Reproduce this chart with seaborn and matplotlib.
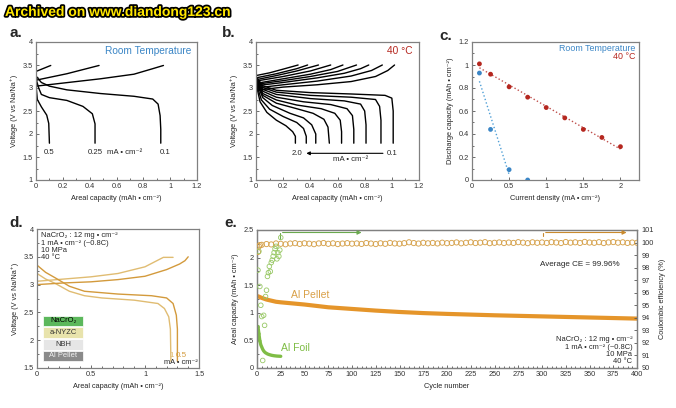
import matplotlib
matplotlib.use("Agg")
import numpy as np
import pandas as pd
import matplotlib.pyplot as plt
import matplotlib.patheffects as pe
from matplotlib.ticker import MultipleLocator, FuncFormatter
from matplotlib.patches import Rectangle
import seaborn as sns

sns.set_theme(style="ticks")
plt.rcParams["font.family"] = ["Liberation Sans", "DejaVu Sans"]

# ---------------- data: panel a (room temperature) ----------------
a_chg_cap = [[0, 0.48, 0.73, 0.87, 0.95],
             [0, 0.23, 0.47],
             [0, 0.11]]
a_chg_v = [[3.04, 3.20, 3.30, 3.42, 3.49],
           [3.17, 3.31, 3.49],
           [3.36, 3.49]]
a_dis_cap = [[0, 0.04, 0.10, 0.23, 0.48, 0.73, 0.87, 0.91, 0.925, 0.93, 0.93],
             [0, 0.02, 0.04, 0.10, 0.23, 0.35, 0.42, 0.44, 0.44],
             [0, 0.01, 0.04, 0.08, 0.095, 0.10]]
a_dis_v = [[3.26, 3.12, 3.04, 2.96, 2.88, 2.82, 2.76, 2.65, 2.40, 2.10, 1.80],
           [3.20, 3.00, 2.86, 2.79, 2.73, 2.60, 2.44, 2.22, 1.80],
           [3.06, 2.75, 2.59, 2.41, 2.23, 1.80]]
a_rate_labels = ["0.5", "0.25", "0.1"]
a_rate_label_x = [0.10, 0.44, 0.96]

# ---------------- data: panel b (40 C), rates 0.1 ... 2.0 ----------------
b_chg_cap = [[0, 0.20, 0.45, 0.70, 0.88, 0.97, 1.02],
             [0, 0.20, 0.45, 0.70, 0.85, 0.93],
             [0, 0.20, 0.45, 0.65, 0.77, 0.83],
             [0, 0.20, 0.40, 0.60, 0.74],
             [0, 0.20, 0.40, 0.55, 0.64],
             [0, 0.20, 0.40, 0.55],
             [0, 0.15, 0.30, 0.46],
             [0, 0.15, 0.30, 0.38],
             [0, 0.10, 0.20, 0.31]]
b_chg_v = [[2.95, 3.02, 3.07, 3.14, 3.25, 3.38, 3.50],
           [3.00, 3.07, 3.15, 3.26, 3.38, 3.50],
           [3.05, 3.12, 3.22, 3.32, 3.42, 3.50],
           [3.08, 3.16, 3.25, 3.36, 3.50],
           [3.10, 3.20, 3.30, 3.40, 3.50],
           [3.15, 3.25, 3.37, 3.50],
           [3.18, 3.27, 3.37, 3.50],
           [3.22, 3.31, 3.42, 3.50],
           [3.27, 3.33, 3.41, 3.50]]
b_dis_cap = [[0, 0.05, 0.15, 0.40, 0.70, 0.95, 1.00, 1.01, 1.01],
             [0, 0.05, 0.15, 0.40, 0.70, 0.88, 0.91, 0.92, 0.92],
             [0, 0.05, 0.15, 0.40, 0.65, 0.77, 0.80, 0.81, 0.81],
             [0, 0.05, 0.15, 0.35, 0.55, 0.67, 0.71, 0.72, 0.72],
             [0, 0.05, 0.15, 0.30, 0.48, 0.58, 0.62, 0.63, 0.63],
             [0, 0.05, 0.15, 0.30, 0.42, 0.50, 0.53, 0.54],
             [0, 0.05, 0.12, 0.25, 0.35, 0.41, 0.44, 0.44],
             [0, 0.04, 0.10, 0.20, 0.30, 0.35, 0.37, 0.37],
             [0, 0.03, 0.08, 0.15, 0.22, 0.27, 0.29, 0.29]]
b_dis_v = [[3.25, 3.05, 2.95, 2.90, 2.87, 2.84, 2.78, 2.50, 1.80],
           [3.24, 3.01, 2.91, 2.84, 2.80, 2.75, 2.60, 2.30, 1.80],
           [3.22, 2.97, 2.86, 2.77, 2.72, 2.65, 2.50, 2.20, 1.80],
           [3.20, 2.93, 2.80, 2.70, 2.64, 2.55, 2.40, 2.10, 1.80],
           [3.18, 2.88, 2.74, 2.63, 2.55, 2.45, 2.30, 2.05, 1.80],
           [3.16, 2.84, 2.67, 2.55, 2.45, 2.32, 2.15, 1.80],
           [3.14, 2.79, 2.62, 2.45, 2.35, 2.20, 2.00, 1.80],
           [3.12, 2.74, 2.54, 2.38, 2.25, 2.12, 1.95, 1.80],
           [3.10, 2.70, 2.47, 2.30, 2.18, 2.05, 1.95, 1.80]]

# ---------------- data: panel c ----------------
c_rate_40 = [0.1, 0.25, 0.5, 0.75, 1.0, 1.25, 1.5, 1.75, 2.0]
c_cap_40 = [1.01, 0.92, 0.81, 0.72, 0.63, 0.54, 0.44, 0.37, 0.29]
c_rate_rt = [0.1, 0.25, 0.5, 0.75]
c_cap_rt = [0.93, 0.44, 0.09, 0.0]

# ---------------- data: panel d ----------------
d_chg_1_cap = [0, 0.25, 0.5, 0.75, 1.0, 1.1, 1.17, 1.26]
d_chg_1_v = [3.06, 3.10, 3.14, 3.20, 3.32, 3.42, 3.49, 3.49]
d_chg_05_cap = [0, 0.25, 0.5, 0.75, 1.0, 1.2, 1.32, 1.37, 1.40]
d_chg_05_v = [3.00, 3.03, 3.05, 3.09, 3.15, 3.27, 3.37, 3.43, 3.50]
d_dis_1_cap = [0, 0.08, 0.17, 0.30, 0.44, 0.60, 0.90, 1.12, 1.18, 1.22, 1.235, 1.24]
d_dis_1_v = [3.20, 3.10, 3.02, 2.88, 2.80, 2.76, 2.72, 2.66, 2.57, 2.42, 2.20, 1.62]
d_dis_05_cap = [0, 0.08, 0.17, 0.30, 0.44, 0.75, 1.06, 1.20, 1.26, 1.29, 1.30, 1.30]
d_dis_05_v = [3.35, 3.22, 3.12, 2.97, 2.88, 2.83, 2.80, 2.76, 2.66, 2.45, 2.20, 1.62]
d_stack_labels = ["NaCrO\u2082", "a-NYZC", "NBH", "Al Pellet"]

# ---------------- data: panel e ----------------
pellet_cap_cycle = [1, 5, 10, 15, 20, 25, 50, 75, 100, 125, 150, 175, 200, 250, 300, 350, 400]
pellet_cap = [1.30, 1.27, 1.24, 1.22, 1.20, 1.19, 1.15, 1.10, 1.07, 1.04, 1.015, 0.995,
              0.98, 0.955, 0.935, 0.915, 0.895]
foil_cycle = list(range(1, 26))
foil_cap = [0.75, 0.62, 0.49, 0.42, 0.38, 0.34, 0.31, 0.29, 0.275, 0.265, 0.255, 0.248,
            0.242, 0.237, 0.232, 0.228, 0.225, 0.222, 0.220, 0.218, 0.216, 0.215, 0.214,
            0.213, 0.212]
foil_ce = [97.8, 99.3, 96.5, 95.0, 94.1, 90.6, 94.2, 93.4, 95.7, 96.2, 97.3, 97.6, 98.1,
           97.7, 98.4, 98.6, 98.9, 99.2, 99.5, 99.7, 98.7, 99.2, 98.9, 99.4, 100.4]
pellet_ce_cycle = [1, 2, 3] + list(range(5, 401, 5))
pellet_ce = [99.25, 99.70, 99.80,
             99.82, 99.88, 99.85, 99.93, 99.90, 99.86, 99.92, 99.95, 99.89, 99.94,
             99.91, 99.87, 99.93, 99.96, 99.90, 99.94, 99.88, 99.92, 99.95, 99.91,
             99.93, 99.89, 99.96, 99.92, 99.88, 99.94, 99.90, 99.97, 99.93, 99.91,
             99.95, 100.02, 99.96, 99.92, 99.98, 99.94, 99.97, 99.93, 99.99, 99.95,
             99.97, 100.01, 99.94, 99.98, 100.02, 99.96, 99.99, 100.03, 99.95, 99.98,
             100.01, 99.96, 100.00, 99.97, 100.03, 99.99, 99.95, 100.02, 99.98, 100.01,
             99.97, 100.03, 100.00, 99.96, 100.04, 99.99, 100.02, 99.97, 100.05, 100.00,
             99.98, 100.03, 99.96, 100.01, 100.04, 99.99, 100.02, 99.97, 100.00, 99.98]
x_ticks_e = list(range(0, 401, 25))

# ---------------- colours ----------------
BLUE = "#3b86c6"
RED = "#b5271f"
GOLD_1 = "#e0bc72"
GOLD_05 = "#d39a3c"
ORANGE = "#e5952a"
ORANGE_CE = "#d6a24c"
GREEN = "#7fbd45"
GREEN_CE = "#98c865"
SPINE = "#808080"

W, H = 676, 408
fig = plt.figure(figsize=(W / 100, H / 100), dpi=100)


def box(l, t, r, b):
    return [l / W, 1 - b / H, (r - l) / W, (b - t) / H]


fmt = FuncFormatter(lambda v, p: f"{v:g}")
TS = 5.3


def style(ax, xlim, ylim, xmaj, xmin, ymaj, ymin):
    ax.set_xlim(*xlim)
    ax.set_ylim(*ylim)
    ax.xaxis.set_major_locator(MultipleLocator(xmaj))
    ax.xaxis.set_minor_locator(MultipleLocator(xmin))
    ax.yaxis.set_major_locator(MultipleLocator(ymaj))
    ax.yaxis.set_minor_locator(MultipleLocator(ymin))
    ax.xaxis.set_major_formatter(fmt)
    ax.yaxis.set_major_formatter(fmt)
    ax.tick_params(which="both", direction="in", color="#555555", labelcolor="#333333",
                   labelsize=TS, width=0.6, pad=2.5)
    ax.tick_params(which="major", length=2.5)
    ax.tick_params(which="minor", length=1.5)
    for s in ax.spines.values():
        s.set_color(SPINE)
        s.set_linewidth(0.9)


def line(ax, x, y, color, lw=1.0):
    sns.lineplot(x=x, y=y, sort=False, estimator=None, color=color, lw=lw, ax=ax)


CAP_LABEL = "Areal capacity (mAh \u2022 cm\u207b\u00b2)"
V_LABEL = "Voltage (V vs Na/Na\u207a)"
UNIT = "mA \u2022 cm\u207b\u00b2"

# ---------------- panel a ----------------
axa = fig.add_axes(box(36, 42, 197, 180))
for x, y in zip(a_chg_cap, a_chg_v):
    line(axa, x, y, "black")
for x, y in zip(a_dis_cap, a_dis_v):
    line(axa, x, y, "black")
style(axa, (0, 1.2), (1, 4), 0.2, 0.1, 0.5, 0.25)
for lab, xx in zip(a_rate_labels, a_rate_label_x):
    axa.text(xx, 1.6, lab, fontsize=5.6, ha="center", va="center")
axa.text(0.66, 1.6, UNIT, fontsize=5.6, ha="center", va="center")
axa.text(1.16, 3.8, "Room Temperature", color=BLUE, fontsize=7.3, ha="right", va="center")
axa.set_xlabel(CAP_LABEL, fontsize=TS, labelpad=3)
axa.set_ylabel(V_LABEL, fontsize=TS, labelpad=3)

# ---------------- panel b ----------------
axb = fig.add_axes(box(256, 42, 419, 180))
for x, y in zip(b_chg_cap, b_chg_v):
    line(axb, x, y, "black")
for x, y in zip(b_dis_cap, b_dis_v):
    line(axb, x, y, "black")
style(axb, (0, 1.2), (1, 4), 0.2, 0.1, 0.5, 0.25)
axb.text(1.15, 3.8, "40 \u00b0C", color=RED, fontsize=7.3, ha="right", va="center")
axb.text(0.30, 1.58, "2.0", fontsize=5.6, ha="center", va="center")
axb.text(1.00, 1.58, "0.1", fontsize=5.6, ha="center", va="center")
axb.annotate("", xy=(0.35, 1.58), xytext=(0.955, 1.58),
             arrowprops=dict(arrowstyle="-|>", color="black", lw=0.8, mutation_scale=5))
axb.text(0.70, 1.45, UNIT, fontsize=5.6, ha="center", va="center")
axb.set_xlabel(CAP_LABEL, fontsize=TS, labelpad=3)
axb.set_ylabel(V_LABEL, fontsize=TS, labelpad=3)

# ---------------- panel c ----------------
axc = fig.add_axes(box(472, 42, 639, 180))
sns.regplot(x=c_rate_40, y=c_cap_40, scatter=False, ci=None, truncate=True, ax=axc,
            line_kws=dict(ls=":", lw=1.0, color="#c0504d"))
sns.regplot(x=c_rate_rt[:3], y=c_cap_rt[:3], scatter=False, ci=None, truncate=True, ax=axc,
            line_kws=dict(ls=":", lw=1.0, color="#4f9fd6"))
sns.scatterplot(x=c_rate_40, y=c_cap_40, color=RED, s=12, edgecolor="none", ax=axc, zorder=3)
sns.scatterplot(x=c_rate_rt, y=c_cap_rt, color=BLUE, s=12, edgecolor="none", ax=axc, zorder=3)
style(axc, (0, 2.25), (0, 1.2), 0.5, 0.25, 0.2, 0.1)
axc.text(2.2, 1.14, "Room Temperature", color=BLUE, fontsize=6.4, ha="right", va="center")
axc.text(2.2, 1.07, "40 \u00b0C", color=RED, fontsize=6.4, ha="right", va="center")
axc.set_xlabel("Current density (mA \u2022 cm\u207b\u00b2)", fontsize=TS, labelpad=3)
axc.set_ylabel("Discharge capacity (mAh \u2022 cm\u207b\u00b2)", fontsize=TS, labelpad=3)

# ---------------- panel d ----------------
axd = fig.add_axes(box(37, 229, 199, 368))
line(axd, d_chg_1_cap, d_chg_1_v, GOLD_1)
line(axd, d_dis_1_cap, d_dis_1_v, GOLD_1)
line(axd, d_chg_05_cap, d_chg_05_v, GOLD_05)
line(axd, d_dis_05_cap, d_dis_05_v, GOLD_05)
style(axd, (0, 1.5), (1.5, 4), 0.5, 0.1, 0.5, 0.25)
axd.text(0.025, 0.975,
         "NaCrO\u2082 : 12 mg \u2022 cm\u207b\u00b2\n1 mA \u2022 cm\u207b\u00b2 (~0.8C)\n10 MPa\n40 \u00b0C",
         transform=axd.transAxes, fontsize=5.4, ha="left", va="top", linespacing=1.05)
axd.text(1.245, 1.72, "1", color=GOLD_1, fontsize=5.8, ha="center", va="center")
axd.text(1.335, 1.72, "0.5", color=GOLD_05, fontsize=5.8, ha="center", va="center")
axd.text(1.49, 1.59, UNIT, fontsize=5.4, ha="right", va="center")
stack_colors = ["#5cb85c", "#e8e3ac", "#e6e6e6", "#8a8a8a"]
stack_text = ["black", "#333333", "#333333", "#f2f2f2"]
bh = 0.084
for i, (lab, fc, tc) in enumerate(zip(d_stack_labels, stack_colors, stack_text)):
    y0 = 0.045 + (3 - i) * bh
    axd.add_patch(Rectangle((0.04, y0 + 0.004), 0.245, bh - 0.008, transform=axd.transAxes,
                            facecolor=fc, edgecolor="white", lw=0.5, zorder=4))
    axd.text(0.1625, y0 + bh / 2, lab, transform=axd.transAxes, fontsize=5.4, color=tc,
             ha="center", va="center", zorder=5)
axd.set_xlabel(CAP_LABEL, fontsize=TS, labelpad=3)
axd.set_ylabel(V_LABEL, fontsize=TS, labelpad=3)

# ---------------- panel e ----------------
axe = fig.add_axes(box(257, 230, 637, 368))
axe2 = axe.twinx()
line(axe, pellet_cap_cycle, pellet_cap, ORANGE, lw=3.0)
line(axe, foil_cycle, foil_cap, GREEN, lw=2.4)
sns.scatterplot(x=foil_cycle[:3], y=foil_cap[:3], color=GREEN, s=6, edgecolor="none", ax=axe)
sns.scatterplot(x=pellet_ce_cycle, y=pellet_ce, ax=axe2, s=14, facecolor="none",
                edgecolor=ORANGE_CE, linewidth=0.65, zorder=3)
sns.scatterplot(x=foil_cycle, y=foil_ce, ax=axe2, s=11, facecolor="none",
                edgecolor=GREEN_CE, linewidth=0.6, zorder=4)
style(axe, (0, 400), (0, 2.5), 25, 5, 0.5, 0.25)
axe.set_xticks(x_ticks_e)
axe2.set_ylim(90, 101)
axe2.yaxis.set_major_locator(MultipleLocator(1))
axe2.yaxis.set_major_formatter(fmt)
axe2.tick_params(which="both", direction="in", color="#555555", labelcolor="#333333",
                 labelsize=TS, width=0.6, length=2.5, pad=3)
for s in axe2.spines.values():
    s.set_color(SPINE)
    s.set_linewidth(0.9)
# guide arrows
axe2.plot([24, 24], [100.25, 100.8], color="#6aa84f", lw=0.8)
axe2.annotate("", xy=(113, 100.8), xytext=(24, 100.8),
              arrowprops=dict(arrowstyle="-|>", color="#6aa84f", lw=0.8, mutation_scale=6))
axe2.plot([301, 301], [100.5, 100.8], color="#c98a2e", lw=0.8)
axe2.annotate("", xy=(392, 100.8), xytext=(301, 100.8),
              arrowprops=dict(arrowstyle="-|>", color="#c98a2e", lw=0.8, mutation_scale=6))
axe2.text(0.955, 0.75, "Average CE = 99.96%", transform=axe2.transAxes, fontsize=5.8,
          ha="right", va="center")
axe.text(36, 1.32, "Al Pellet", color="#d9a047", fontsize=7.5, ha="left", va="center")
axe.text(25, 0.36, "Al Foil", color=GREEN, fontsize=7.5, ha="left", va="center")
axe.text(0.988, 0.02,
         "NaCrO\u2082 : 12 mg \u2022 cm\u207b\u00b2\n1 mA \u2022 cm\u207b\u00b2 (~0.8C)\n10 MPa\n40 \u00b0C",
         transform=axe.transAxes, fontsize=5.4, ha="right", va="bottom",
         multialignment="right", linespacing=1.05)
axe.set_xlabel("Cycle number", fontsize=TS, labelpad=3)
axe.set_ylabel(CAP_LABEL, fontsize=TS, labelpad=3)
axe2.set_ylabel("Coulombic efficiency (%)", fontsize=TS, labelpad=4)

# ---------------- panel letters & watermark ----------------
for lab, px, py in [("a.", 9, 33), ("b.", 222, 33), ("c.", 439, 36), ("d.", 9, 223), ("e.", 224, 223)]:
    fig.text(px / W, 1 - py / H, lab, fontsize=11, fontweight="bold", ha="left", va="center")
fig.text(5 / W, 1 - 12 / H, "Archived on www.diandong123.cn", fontsize=10, fontweight="bold",
         color="#ffe600", ha="left", va="center",
         path_effects=[pe.withStroke(linewidth=2.5, foreground="black")])

fig.savefig("out.png", dpi=100)
